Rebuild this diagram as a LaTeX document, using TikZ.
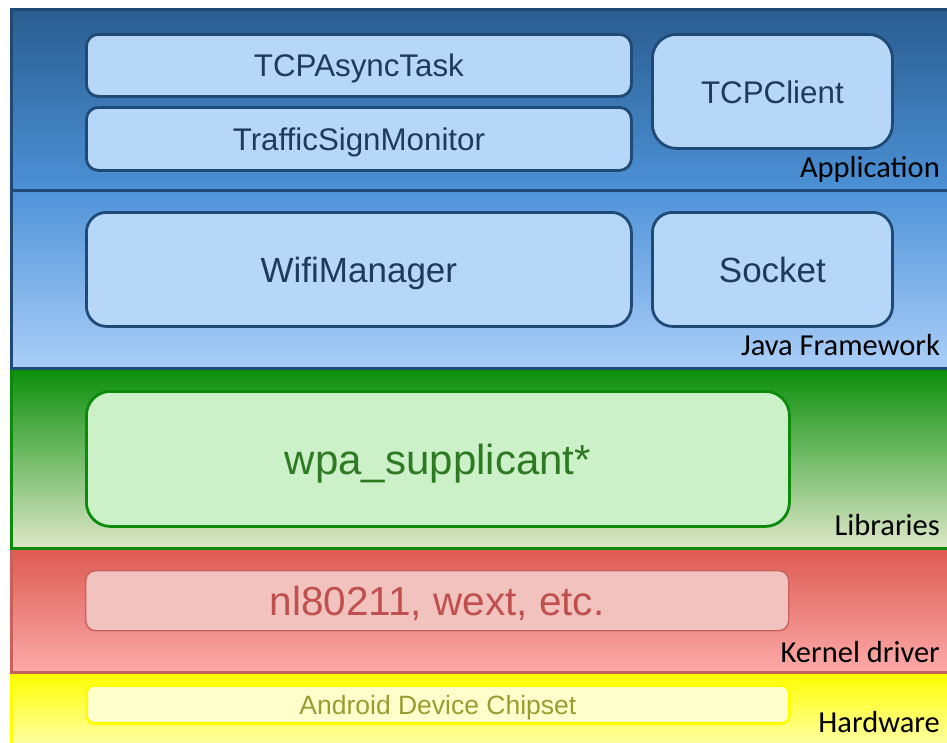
\documentclass[tikz,border=0pt]{standalone}
\usepackage{fontspec}
\setmainfont{Liberation Sans}
\newfontfamily\layerfont{Carlito}

% layer colours
\definecolor{appTop}{HTML}{2A5D90}
\definecolor{appBot}{HTML}{4C91D6}
\definecolor{javTop}{HTML}{4F93D8}
\definecolor{javBot}{HTML}{AACEF8}
\definecolor{blueEdge}{HTML}{1F4A75}
\definecolor{blueFill}{HTML}{B6D7F7}
\definecolor{blueText}{HTML}{1E3A5C}
\definecolor{libTop}{HTML}{0A8F0A}
\definecolor{libBot}{HTML}{DDE7C8}
\definecolor{greenEdge}{HTML}{0B8A0B}
\definecolor{greenFill}{HTML}{CCF0C8}
\definecolor{greenText}{HTML}{2D7A23}
\definecolor{kerTop}{HTML}{DD5A52}
\definecolor{kerBot}{HTML}{FCAAA8}
\definecolor{redEdge}{HTML}{C9605B}
\definecolor{redFill}{HTML}{F2C2BF}
\definecolor{redText}{HTML}{C0504D}
\definecolor{hwTop}{HTML}{FFFF00}
\definecolor{hwBot}{HTML}{FFFFC8}
\definecolor{yellowFill}{HTML}{FFFFCC}
\definecolor{oliveText}{HTML}{9B9B33}

\tikzset{
  layerband/.style={line width=3pt},
  layername/.style={anchor=base east, inner sep=0pt, font=\layerfont\fontsize{30.5}{30.5}\selectfont},
  % a strut the size of the font's line box keeps the text centred like a slide text box
  compbox/.style={anchor=north west, inner sep=0pt,
    execute at begin node={\rule[-0.19em]{0pt}{1.13em}}},
  bluebox/.style={compbox, draw=blueEdge, fill=blueFill, text=blueText, line width=2.8pt},
  greenbox/.style={compbox, draw=greenEdge, fill=greenFill, text=greenText, line width=2.8pt,
    rounded corners=24pt, font=\fontsize{42}{42}\selectfont},
  redbox/.style={compbox, draw=redEdge, fill=redFill, text=redText, line width=1.4pt,
    rounded corners=10pt, font=\fontsize{40.5}{40.5}\selectfont},
  yellowbox/.style={compbox, draw=hwTop, fill=yellowFill, text=oliveText, line width=2.8pt,
    rounded corners=8pt, font=\fontsize{26.5}{26.5}\selectfont},
}

\begin{document}
\begin{tikzpicture}[x=1pt, y=-1pt]
\useasboundingbox (0,0) rectangle (947,742);
\fill[white] (0,0) rectangle (947,742);

% layer bands (they run past the right edge)
\begin{scope}
\clip (0,0) rectangle (947,742);
\path[layerband, draw=hwTop, top color=hwTop, bottom color=hwBot] (11,673) rectangle (960,760);
\path[layerband, draw=redEdge, top color=kerTop, bottom color=kerBot] (11,548) rectangle (960,672);
\path[layerband, draw=greenEdge, top color=libTop, bottom color=libBot] (11,368) rectangle (960,548);
\path[layerband, draw=blueEdge, top color=javTop, bottom color=javBot] (11,190) rectangle (960,368);
\path[layerband, draw=blueEdge, top color=appTop, bottom color=appBot] (11,9) rectangle (960,190);
\end{scope}

% Application layer
\node[bluebox, rounded corners=12pt, minimum width=545pt, minimum height=62pt,
      font=\fontsize{31.3}{31.3}\selectfont] (tcpasync) at (85,33) {TCPAsyncTask};
\node[bluebox, rounded corners=12pt, minimum width=545pt, minimum height=63pt,
      font=\fontsize{31.3}{31.3}\selectfont] (traffic) at (85,106) {TrafficSignMonitor};
\node[bluebox, rounded corners=24pt, minimum width=240pt, minimum height=114pt,
      font=\fontsize{31.3}{31.3}\selectfont] (tcpclient) at (651,33) {TCPClient};
\node[layername] (lapp) at (940,177) {Application};

% Java framework layer
\node[bluebox, rounded corners=20pt, minimum width=545pt, minimum height=114pt,
      font=\fontsize{35}{35}\selectfont] (wifi) at (85,211) {WifiManager};
\node[bluebox, rounded corners=20pt, minimum width=240pt, minimum height=114pt,
      font=\fontsize{35}{35}\selectfont] (socket) at (651,211) {Socket};
\node[layername] (ljava) at (940,355) {Java Framework};

% Libraries layer
\node[greenbox, minimum width=703pt, minimum height=135pt] (wpa) at (85,390) {wpa\_supplicant*};
\node[layername] (llib) at (940,535) {Libraries};

% Kernel driver layer
\node[redbox, minimum width=703pt, minimum height=60pt] (nl) at (85,570) {nl80211, wext, etc.};
\node[layername] (lker) at (940,662) {Kernel driver};

% Hardware layer
\node[yellowbox, minimum width=703pt, minimum height=38pt] (chip) at (85,684) {Android Device Chipset};
\node[layername] (lhw) at (940,732) {Hardware};
\end{tikzpicture}
\end{document}
